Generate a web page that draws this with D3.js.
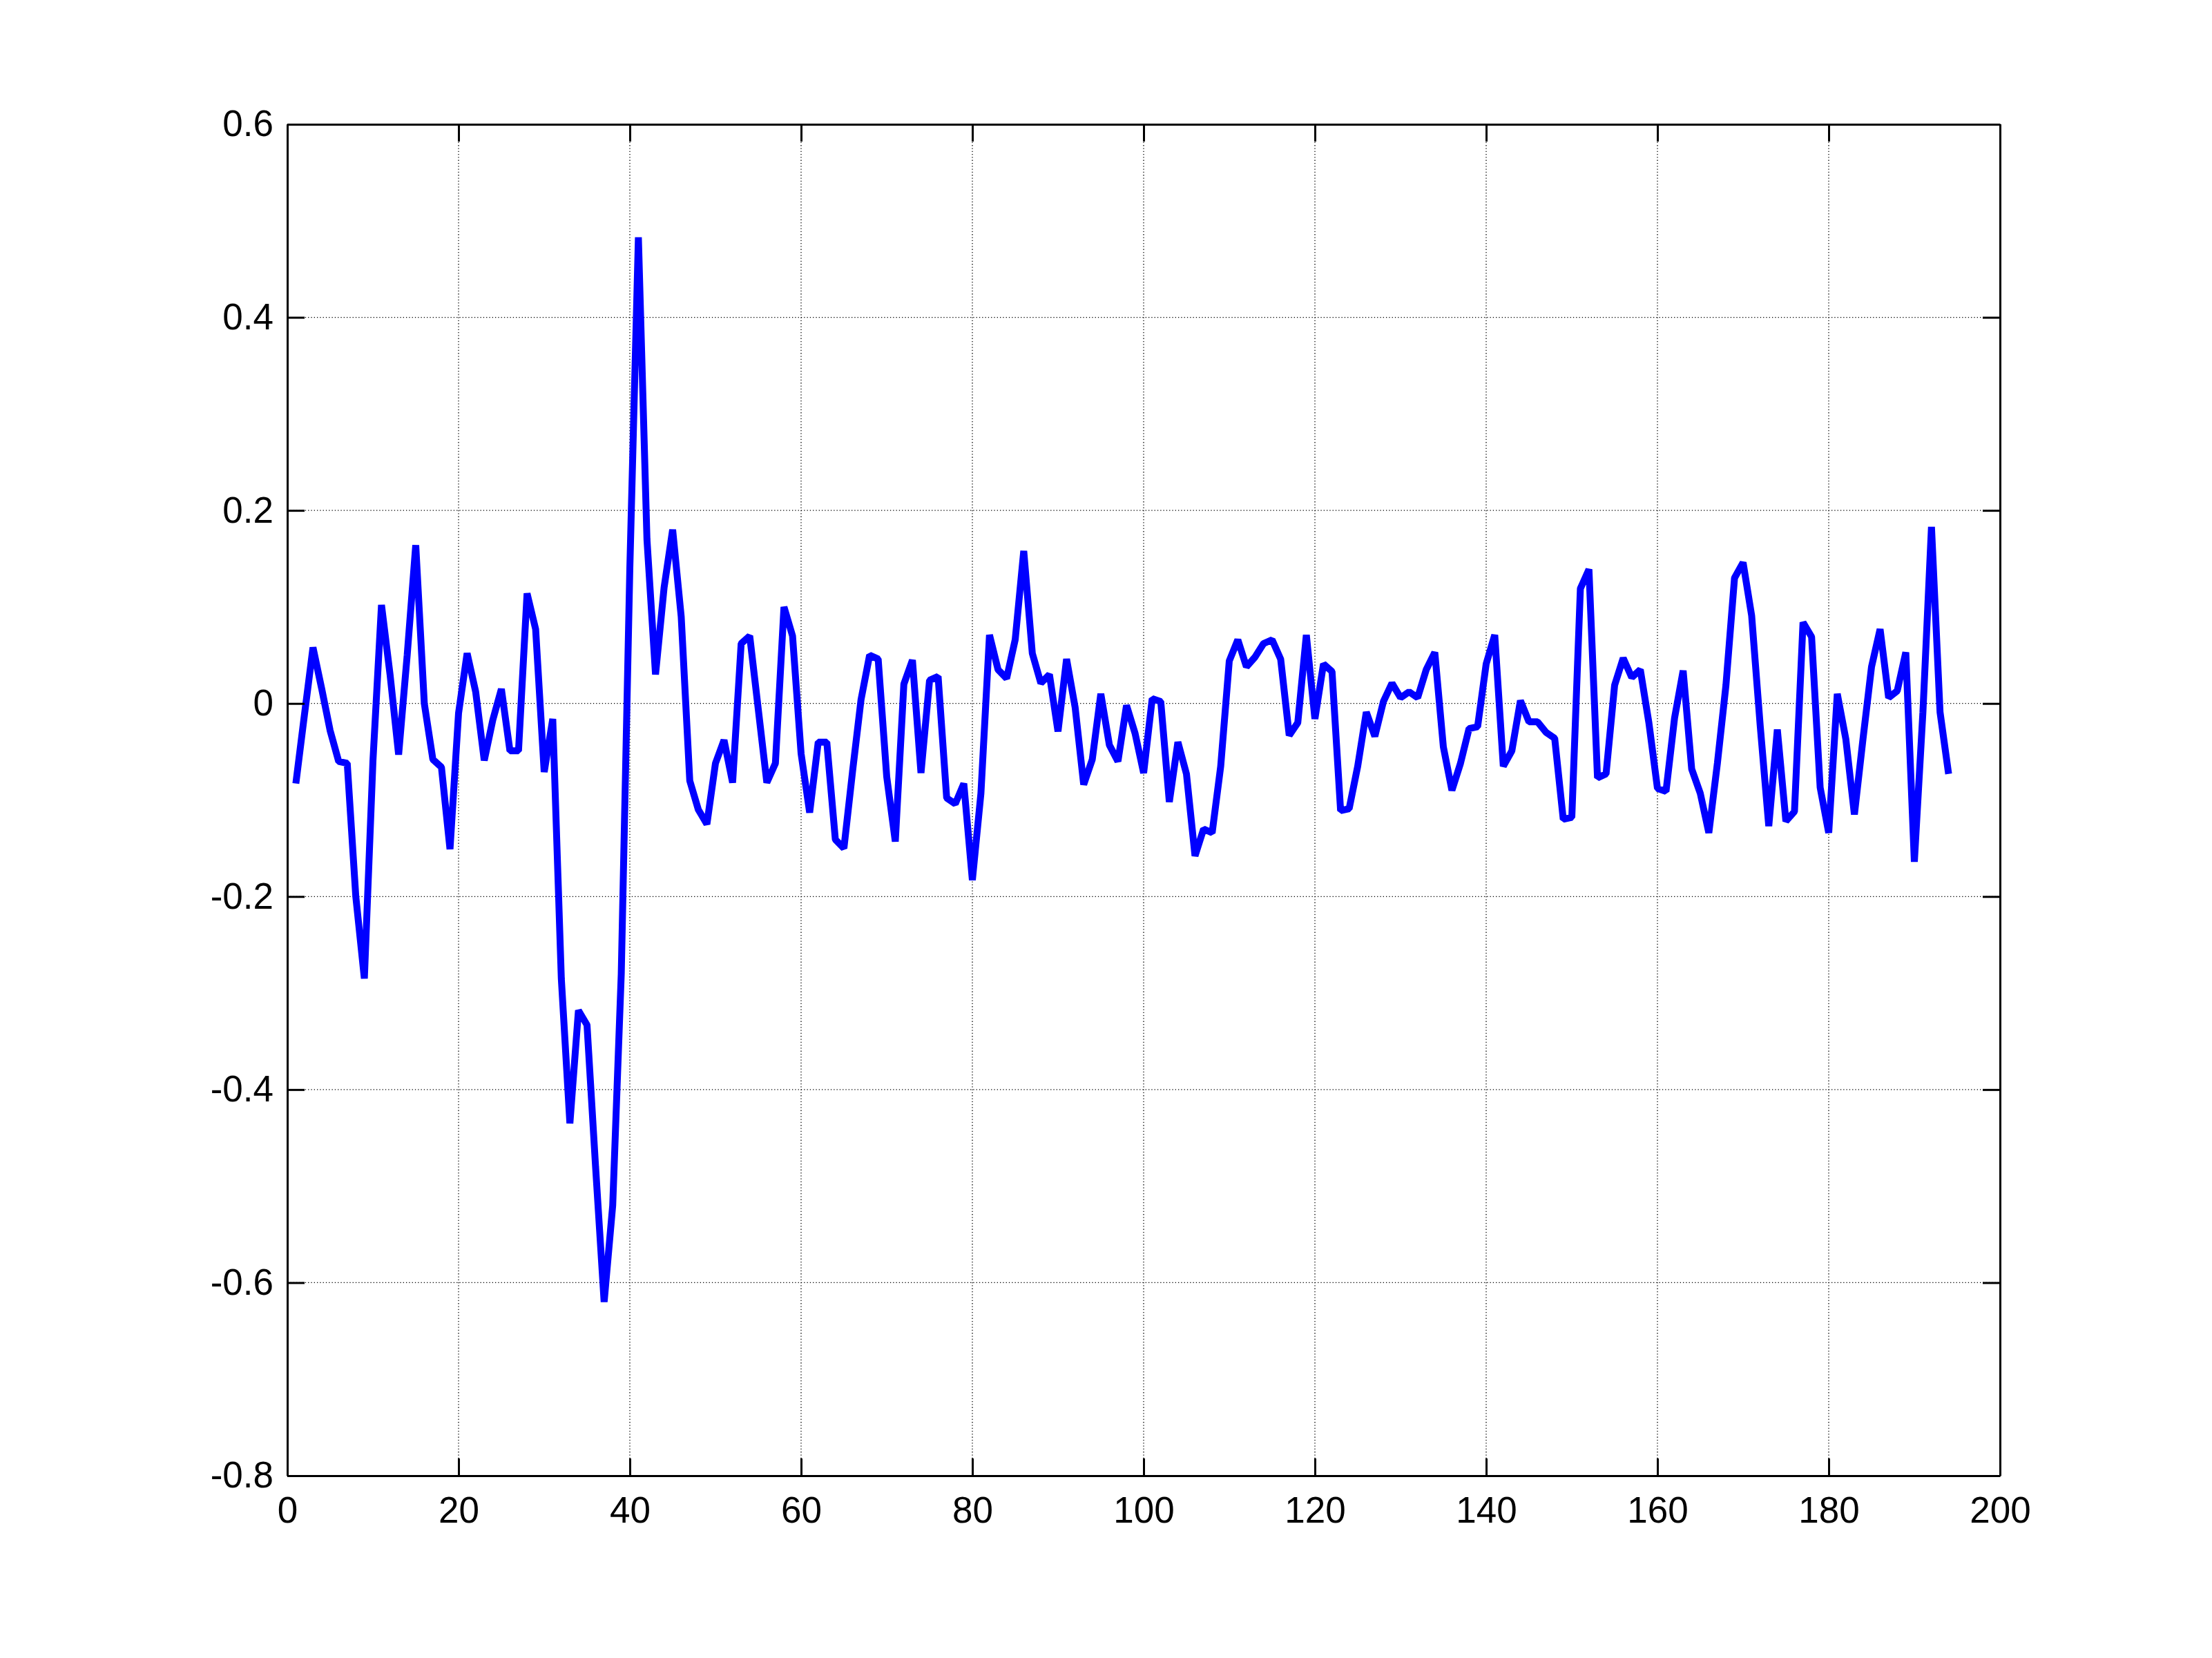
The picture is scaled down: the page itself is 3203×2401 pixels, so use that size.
<!DOCTYPE html>
<html>
<head>
<meta charset="utf-8">
<script src="https://cdn.jsdelivr.net/npm/d3@7"></script>
<style>
  html, body { margin: 0; padding: 0; background: #fff; }
  svg { display: block; }
</style>
</head>
<body>
<script>
// ---- data ----
const values = [
  -0.083, -0.012, 0.058, 0.016, -0.028, -0.06, -0.062, -0.2, -0.285, -0.06,
  0.102, 0.03, -0.053, 0.05, 0.164, 0.0, -0.058, -0.066, -0.151, -0.01,
  0.052, 0.012, -0.059, -0.017, 0.015, -0.049, -0.049, 0.114, 0.077, -0.071,
  -0.016, -0.285, -0.435, -0.318, -0.333, -0.48, -0.62, -0.52, -0.28, 0.14,
  0.483, 0.17, 0.03, 0.12, 0.18, 0.09, -0.08, -0.11, -0.125, -0.062,
  -0.038, -0.082, 0.062, 0.07, -0.006, -0.082, -0.062, 0.1, 0.07, -0.052,
  -0.113, -0.04, -0.04, -0.141, -0.15, -0.071, 0.004, 0.05, 0.046, -0.076,
  -0.143, 0.02, 0.045, -0.072, 0.024, 0.028, -0.098, -0.104, -0.083, -0.183,
  -0.093, 0.071, 0.035, 0.026, 0.066, 0.158, 0.052, 0.021, 0.03, -0.029,
  0.046, -0.004, -0.084, -0.058, 0.01, -0.043, -0.06, -0.002, -0.031, -0.072,
  0.005, 0.002, -0.102, -0.04, -0.073, -0.158, -0.13, -0.134, -0.065, 0.044,
  0.066, 0.038, 0.048, 0.062, 0.066, 0.046, -0.033, -0.02, 0.071, -0.016,
  0.041, 0.033, -0.111, -0.109, -0.065, -0.009, -0.034, 0.002, 0.021, 0.006,
  0.012, 0.006, 0.035, 0.053, -0.045, -0.09, -0.062, -0.026, -0.024, 0.041,
  0.071, -0.065, -0.049, 0.003, -0.019, -0.019, -0.03, -0.036, -0.12, -0.118,
  0.119, 0.139, -0.077, -0.073, 0.019, 0.047, 0.027, 0.035, -0.02, -0.088,
  -0.091, -0.015, 0.034, -0.068, -0.093, -0.134, -0.062, 0.019, 0.13, 0.146,
  0.091, -0.023, -0.127, -0.027, -0.122, -0.112, 0.084, 0.069, -0.087, -0.134,
  0.01, -0.037, -0.115, -0.037, 0.038, 0.077, 0.006, 0.013, 0.053, -0.164,
  -0.009, 0.183, -0.009, -0.073
];
const xTicks = [0, 20, 40, 60, 80, 100, 120, 140, 160, 180, 200];
const xTickLabels = ["0", "20", "40", "60", "80", "100", "120", "140", "160", "180", "200"];
const yTicks = [-0.8, -0.6, -0.4, -0.2, 0, 0.2, 0.4, 0.6];
const yTickLabels = ["-0.8", "-0.6", "-0.4", "-0.2", "0", "0.2", "0.4", "0.6"];
const xDomain = [0, 200];
const yDomain = [-0.8, 0.6];

(function () {
  // ---- layout ----
  const W = 3203, H = 2401;
  const pL = 416, pR = 2896, pT = 180, pB = 2137;
  const tickLen = 25;
  const font = "'Liberation Sans', Arial, Helvetica, sans-serif";
  const fontSize = 53;

  const svg = d3.select("body").append("svg")
    .attr("width", W).attr("height", H)
    .attr("viewBox", `0 0 ${W} ${H}`);
  svg.append("rect").attr("width", W).attr("height", H).attr("fill", "#fff");

  const x = d3.scaleLinear().domain(xDomain).range([pL, pR]);
  const y = d3.scaleLinear().domain(yDomain).range([pB, pT]);

  // grid (dotted)
  const grid = svg.append("g").attr("stroke", "#000").attr("stroke-width", 1.3)
    .attr("stroke-dasharray", "1.3,3");
  grid.selectAll("line.gx").data(xTicks.filter(t => t > xDomain[0] && t < xDomain[1]))
    .join("line").attr("class", "gx")
    .attr("x1", d => x(d)).attr("x2", d => x(d))
    .attr("y1", pT).attr("y2", pB);
  grid.selectAll("line.gy").data(yTicks.filter(t => t > yDomain[0] && t < yDomain[1]))
    .join("line").attr("class", "gy")
    .attr("y1", d => y(d)).attr("y2", d => y(d))
    .attr("x1", pL).attr("x2", pR);

  // data line
  const line = d3.line()
    .x((d, i) => x(i + 1))
    .y(d => y(d));
  svg.append("path")
    .datum(values)
    .attr("d", line)
    .attr("fill", "none")
    .attr("stroke", "#0000ff")
    .attr("stroke-width", 10)
    .attr("stroke-linejoin", "bevel")
    .attr("stroke-linecap", "butt");

  // axes, ticks inward
  const axStroke = 3;
  function styleAxis(g) {
    g.select(".domain").attr("stroke", "#000").attr("stroke-width", axStroke);
    g.selectAll(".tick line").attr("stroke", "#000").attr("stroke-width", axStroke);
    g.selectAll(".tick text").attr("fill", "#000")
      .attr("font-family", font).attr("font-size", fontSize);
  }

  const xAxisBottom = d3.axisBottom(x).tickValues(xTicks)
    .tickFormat((d, i) => xTickLabels[i])
    .tickSizeInner(-tickLen).tickSizeOuter(0).tickPadding(30);
  const gxb = svg.append("g").attr("transform", `translate(0,${pB})`).call(xAxisBottom);
  styleAxis(gxb);

  const xAxisTop = d3.axisTop(x).tickValues(xTicks).tickFormat("")
    .tickSizeInner(-tickLen).tickSizeOuter(0);
  const gxt = svg.append("g").attr("transform", `translate(0,${pT})`).call(xAxisTop);
  styleAxis(gxt);

  const yAxisLeft = d3.axisLeft(y).tickValues(yTicks)
    .tickFormat((d, i) => yTickLabels[i])
    .tickSizeInner(-tickLen).tickSizeOuter(0).tickPadding(20);
  const gyl = svg.append("g").attr("transform", `translate(${pL},0)`).call(yAxisLeft);
  styleAxis(gyl);

  const yAxisRight = d3.axisRight(y).tickValues(yTicks).tickFormat("")
    .tickSizeInner(-tickLen).tickSizeOuter(0);
  const gyr = svg.append("g").attr("transform", `translate(${pR},0)`).call(yAxisRight);
  styleAxis(gyr);
})();
</script>
</body>
</html>
